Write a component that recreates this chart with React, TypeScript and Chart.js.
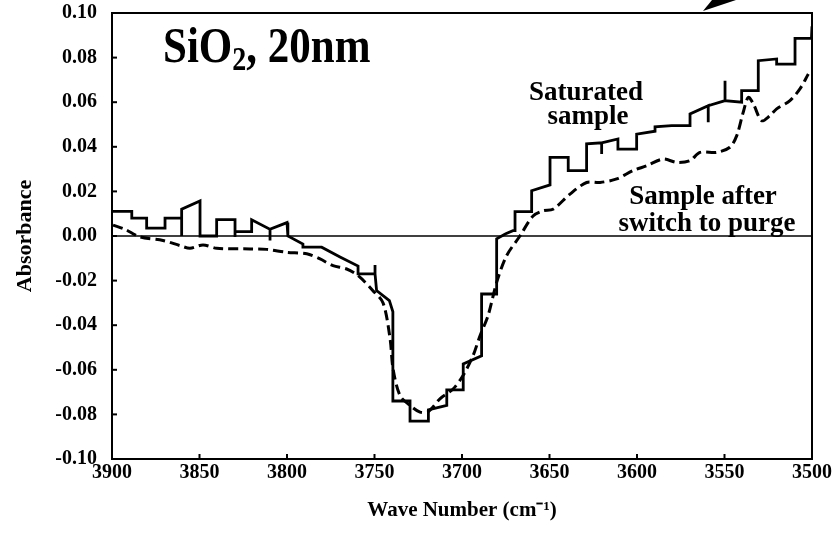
import React, { useEffect, useRef } from "react";
import { Chart, registerables } from "chart.js";

Chart.register(...registerables);

// ---- data -------------------------------------------------------------
const xTickValues = [3900, 3850, 3800, 3750, 3700, 3650, 3600, 3550, 3500];
const yTickValues = [-0.1, -0.08, -0.06, -0.04, -0.02, 0, 0.02, 0.04, 0.06, 0.08, 0.1];

const saturatedWn = [
  3900, 3888.7, 3888.7, 3880.2, 3880.2, 3869.7, 3869.7, 3860.2, 3860.2, 3860.2,
  3849.7, 3849.7, 3840.2, 3840.2, 3829.7, 3829.7, 3829.7, 3820.2, 3820.2, 3809.7,
  3809.7, 3809.7, 3800, 3799.5, 3790.9, 3790.9, 3780.2, 3769.7, 3759.4, 3759.4,
  3749.7, 3749.7, 3749.7, 3748.8, 3741.5, 3739.5, 3739.5, 3729.7, 3729.7, 3719.2,
  3719.2, 3708.7, 3708.7, 3699.3, 3699.3, 3688.8, 3688.8, 3680.2, 3680.2, 3675,
  3670.9, 3669.7, 3669.7, 3660.2, 3660.2, 3649.7, 3649.7, 3639.3, 3639.3, 3628.8,
  3628.8, 3620.2, 3620.2, 3620.2, 3610.9, 3610.9, 3600.2, 3600.2, 3589.7, 3589.7,
  3580.2, 3569.7, 3569.7, 3559.3, 3559.3, 3559.3, 3549.7, 3549.7, 3549.7, 3540.2,
  3540.2, 3530.7, 3530.7, 3520.2, 3520.2, 3509.7, 3509.7, 3500.3, 3500,
];
const saturatedAbs = [
  0.011, 0.011, 0.008, 0.008, 0.0035, 0.0035, 0.008, 0.008, 0.0, 0.012,
  0.0157, 0.0, 0.0, 0.0073, 0.0073, -0.0005, 0.002, 0.002, 0.0073, 0.003,
  -0.002, 0.003, 0.006, 0.0, -0.0036, -0.005, -0.005, -0.0094, -0.0135, -0.017,
  -0.017, -0.013, -0.017, -0.0245, -0.029, -0.034, -0.074, -0.074, -0.083, -0.083,
  -0.078, -0.076, -0.069, -0.069, -0.0574, -0.0537, -0.026, -0.026, -0.0013, 0.001,
  0.0024, 0.0024, 0.0109, 0.0109, 0.0203, 0.0229, 0.0353, 0.0353, 0.0293, 0.0293,
  0.0413, 0.0418, 0.0368, 0.0418, 0.0435, 0.039, 0.039, 0.0457, 0.047, 0.049,
  0.0495, 0.0495, 0.0547, 0.0584, 0.051, 0.0584, 0.0607, 0.0696, 0.0607, 0.06,
  0.0652, 0.0652, 0.0786, 0.0794, 0.0771, 0.0771, 0.0886, 0.0886, 0.094,
];

const purgeWn = [
  3899.4, 3892.6, 3884, 3870.9, 3861.1, 3855.4, 3848, 3840.2, 3821.1, 3811.6,
  3800.2, 3788.7, 3781.1, 3773.7, 3765.9, 3759, 3750.9, 3745.1, 3741.1, 3739.4,
  3735.4, 3729.7, 3724, 3719.4, 3712.6, 3705.1, 3699.4, 3693.7, 3689.7, 3685.1,
  3680.2, 3674.5, 3666.9, 3659.4, 3653.7, 3648, 3638.3, 3628.8, 3621.1, 3611.6,
  3602.3, 3594.5, 3585.1, 3577.3, 3569.7, 3564, 3554.5, 3546.9, 3543, 3539.3,
  3536.4, 3533.5, 3528.8, 3524, 3520.2, 3512.6, 3506.9, 3502.1,
];
const purgeAbs = [
  0.0049, 0.003, -0.0004, -0.002, -0.0043, -0.0055, -0.004, -0.0055, -0.0058, -0.006,
  -0.0073, -0.008, -0.0103, -0.0133, -0.0148, -0.018, -0.0245, -0.03, -0.046, -0.0596,
  -0.0716, -0.076, -0.079, -0.0788, -0.073, -0.0686, -0.0626, -0.0537, -0.0447, -0.0357,
  -0.0208, -0.0088, 0.0, 0.009, 0.0113, 0.012, 0.0188, 0.024, 0.024, 0.0256,
  0.0293, 0.0315, 0.0345, 0.033, 0.0338, 0.0375, 0.0375, 0.0398, 0.045, 0.0555,
  0.0622, 0.0592, 0.0517, 0.054, 0.057, 0.0607, 0.066, 0.0726,
];

const FONT = "'Liberation Serif', 'Times New Roman', serif";

const zip = (xs: number[], ys: number[]) => xs.map((x, i) => ({ x, y: ys[i] }));

// frame, zero line, inward ticks, annotations
const decorPlugin = {
  id: "decor",
  afterDraw(chart: any) {
    const { ctx, chartArea } = chart;
    const { left, right, top, bottom } = chartArea;
    const xs = chart.scales.x;
    const ys = chart.scales.y;
    ctx.save();
    ctx.strokeStyle = "#000";
    // zero line
    ctx.lineWidth = 1.5;
    const y0 = ys.getPixelForValue(0);
    ctx.beginPath();
    ctx.moveTo(left, y0);
    ctx.lineTo(right, y0);
    ctx.stroke();
    // frame
    ctx.lineWidth = 2;
    ctx.strokeRect(left, top, right - left, bottom - top);
    // inward ticks
    yTickValues.forEach((v) => {
      const p = ys.getPixelForValue(v);
      ctx.beginPath();
      ctx.moveTo(left, p);
      ctx.lineTo(left + 5, p);
      ctx.stroke();
    });
    xTickValues.forEach((v) => {
      const p = xs.getPixelForValue(v);
      ctx.beginPath();
      ctx.moveTo(p, bottom);
      ctx.lineTo(p, bottom - 5);
      ctx.stroke();
    });
    // arrow head cut off at the top edge
    ctx.fillStyle = "#000";
    ctx.beginPath();
    ctx.moveTo(703, 11);
    ctx.lineTo(712, 0);
    ctx.lineTo(736, 0);
    ctx.closePath();
    ctx.fill();

    // annotations
    ctx.textBaseline = "alphabetic";
    ctx.textAlign = "left";
    // "SiO2, 20nm" (slightly tall lettering)
    ctx.save();
    ctx.translate(163, 62);
    ctx.scale(1, 1.2);
    let x = 0;
    ctx.font = `bold 43px ${FONT}`;
    ctx.fillText("SiO", x, 0);
    x += ctx.measureText("SiO").width;
    ctx.font = `bold 28px ${FONT}`;
    ctx.fillText("2", x, 7);
    x += ctx.measureText("2").width;
    ctx.font = `bold 43px ${FONT}`;
    ctx.fillText(", 20nm", x, 0);
    ctx.restore();

    ctx.textAlign = "center";
    ctx.font = `bold 27px ${FONT}`;
    ctx.fillText("Saturated", 586, 100);
    ctx.fillText("sample", 588, 124);
    ctx.fillText("Sample after", 703, 204);
    ctx.fillText("switch to purge", 707, 231);
    ctx.restore();
  },
};

export default function App() {
  const ref = useRef<HTMLCanvasElement | null>(null);
  useEffect(() => {
    if (!ref.current) return;
    const chart = new Chart(ref.current, {
      type: "line",
      data: {
        datasets: [
          {
            label: "Saturated sample",
            data: zip(saturatedWn, saturatedAbs),
            borderColor: "#000",
            borderWidth: 2.8,
            pointRadius: 0,
            tension: 0,
            fill: false,
            borderJoinStyle: "miter",
          },
          {
            label: "Sample after switch to purge",
            data: zip(purgeWn, purgeAbs),
            borderColor: "#000",
            borderWidth: 3,
            borderDash: [10, 5],
            pointRadius: 0,
            tension: 0.3,
            fill: false,
          },
        ],
      },
      options: {
        animation: false,
        responsive: false,
        devicePixelRatio: 1,
        layout: { padding: { top: 13, right: 25, left: 0, bottom: 0 } },
        plugins: {
          legend: { display: false },
          tooltip: { enabled: false },
        },
        scales: {
          x: {
            type: "linear",
            reverse: true,
            min: 3500,
            max: 3900,
            afterBuildTicks: (scale: any) => {
              scale.ticks = xTickValues.map((v) => ({ value: v }));
            },
            afterFit: (scale: any) => {
              scale.height = 77;
              scale.paddingLeft = 0;
              scale.paddingRight = 0;
            },
            grid: { display: false, drawTicks: false },
            border: { display: false },
            ticks: {
              color: "#000",
              padding: 2,
              maxRotation: 0,
              autoSkip: false,
              font: { family: FONT, weight: "bold", size: 20 },
              callback: (v: any) => String(v),
            },
            title: {
              display: true,
              text: "Wave Number (cm⁻¹)",
              color: "#000",
              font: { family: FONT, weight: "bold", size: 21 },
              padding: { top: 0, bottom: 13 },
            },
          },
          y: {
            type: "linear",
            min: -0.1,
            max: 0.1,
            afterBuildTicks: (scale: any) => {
              scale.ticks = yTickValues.map((v) => ({ value: v }));
            },
            afterFit: (scale: any) => {
              scale.width = 112;
              scale.paddingTop = 0;
              scale.paddingBottom = 0;
            },
            grid: { display: false, drawTicks: false },
            border: { display: false },
            ticks: {
              color: "#000",
              padding: 15,
              autoSkip: false,
              font: { family: FONT, weight: "bold", size: 20 },
              callback: (v: any) => Number(v).toFixed(2),
            },
            title: {
              display: true,
              text: "Absorbance",
              color: "#000",
              font: { family: FONT, weight: "bold", size: 22 },
              padding: { top: 12, bottom: 0 },
            },
          },
        },
      },
      plugins: [decorPlugin],
    } as any);
    return () => chart.destroy();
  }, []);
  return (
    <div style={{ position: "fixed", left: 0, top: 0, width: 837, height: 536, background: "#fff" }}>
      <canvas ref={ref} width={837} height={536} style={{ width: 837, height: 536 }} />
    </div>
  );
}
